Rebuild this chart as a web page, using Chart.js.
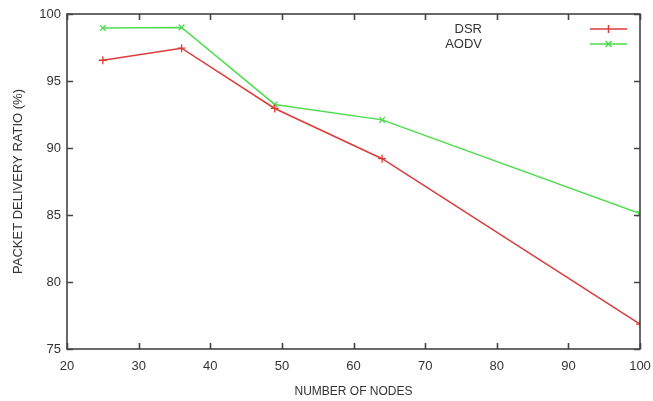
<!DOCTYPE html>
<html>
<head>
<meta charset="utf-8">
<script src="https://cdn.jsdelivr.net/npm/chart.js@4/dist/chart.umd.min.js"></script>
<style>
  html, body { margin: 0; padding: 0; background: #fff; }
</style>
</head>
<body>
<canvas id="pdrChart" width="653" height="401"></canvas>
<script>
// values
const nodes = [25, 36, 49, 64, 100];
const dsrValues = [96.55, 97.45, 92.95, 89.2, 76.85];
const aodvValues = [98.95, 99.0, 93.25, 92.1, 85.1];
const xTicks = [20, 30, 40, 50, 60, 70, 80, 90, 100];
const yTicks = [75, 80, 85, 90, 95, 100];

const dsrColor = '#dd3a3a';
const aodvColor = '#4ddc4d';
const axisColor = '#444';
const textColor = '#333';
const fontFamily = '"Liberation Sans", Arial, sans-serif';

// gnuplot style box with inward ticks on every side + legend in the corner
const framePlugin = {
  id: 'frame',
  afterDraw(chart) {
    const ctx = chart.ctx;
    const a = chart.chartArea;
    const xs = chart.scales.x, ys = chart.scales.y;
    const tick = 6;
    ctx.save();
    ctx.strokeStyle = axisColor;
    ctx.lineWidth = 1.6;
    ctx.strokeRect(a.left, a.top, a.right - a.left, a.bottom - a.top);
    ctx.beginPath();
    xTicks.forEach(v => {
      const px = Math.round(xs.getPixelForValue(v)) + 0.5;
      ctx.moveTo(px, a.bottom); ctx.lineTo(px, a.bottom - tick);
      ctx.moveTo(px, a.top); ctx.lineTo(px, a.top + tick);
    });
    yTicks.forEach(v => {
      const py = Math.round(ys.getPixelForValue(v)) + 0.5;
      ctx.moveTo(a.left, py); ctx.lineTo(a.left + tick, py);
      ctx.moveTo(a.right, py); ctx.lineTo(a.right - tick, py);
    });
    ctx.stroke();

    // legend
    ctx.font = '13px ' + fontFamily;
    ctx.textAlign = 'right';
    ctx.textBaseline = 'middle';
    chart.data.datasets.forEach((ds, i) => {
      const y = a.top + 15 + i * 15;
      const x1 = a.right - 50, x2 = a.right - 13, xm = (x1 + x2) / 2;
      ctx.fillStyle = textColor;
      ctx.fillText(ds.label, a.right - 158, y);
      ctx.strokeStyle = ds.borderColor;
      ctx.lineWidth = 1.5;
      ctx.beginPath();
      ctx.moveTo(x1, y); ctx.lineTo(x2, y);
      if (ds.pointStyle === 'cross') {
        ctx.moveTo(xm, y - 4); ctx.lineTo(xm, y + 4);
      } else {
        ctx.moveTo(xm - 3, y - 3); ctx.lineTo(xm + 3, y + 3);
        ctx.moveTo(xm - 3, y + 3); ctx.lineTo(xm + 3, y - 3);
      }
      ctx.stroke();
    });
    ctx.restore();
  }
};

const ctx = document.getElementById('pdrChart').getContext('2d');

new Chart(ctx, {
  type: 'line',
  data: {
    datasets: [{
      label: 'DSR',
      data: nodes.map((n, i) => ({ x: n, y: dsrValues[i] })),
      borderColor: dsrColor,
      backgroundColor: dsrColor,
      borderWidth: 1.5,
      pointStyle: 'cross',
      pointRadius: 4,
      pointBorderWidth: 1.3,
      tension: 0
    }, {
      label: 'AODV',
      data: nodes.map((n, i) => ({ x: n, y: aodvValues[i] })),
      borderColor: aodvColor,
      backgroundColor: aodvColor,
      borderWidth: 1.5,
      pointStyle: 'crossRot',
      pointRadius: 4,
      pointBorderWidth: 1.3,
      tension: 0
    }]
  },
  options: {
    responsive: false,
    animation: false,
    layout: { padding: { left: 0, top: 14, right: 13, bottom: 0 } },
    plugins: {
      legend: { display: false },
      tooltip: { enabled: false }
    },
    scales: {
      x: {
        type: 'linear',
        min: 20,
        max: 100,
        afterFit: s => { s.height = 52; s.paddingLeft = 0; s.paddingRight = 0; },
        afterBuildTicks: s => { s.ticks = xTicks.map(v => ({ value: v })); },
        grid: { display: false, drawTicks: false },
        border: { display: false },
        ticks: { color: textColor, padding: 10, font: { family: fontFamily, size: 13 }, maxRotation: 0 },
        title: {
          display: true,
          text: 'NUMBER OF NODES',
          color: textColor,
          font: { family: fontFamily, size: 12 },
          padding: { top: 0, bottom: 2 }
        }
      },
      y: {
        min: 75,
        max: 100,
        afterFit: s => { s.width = 67; s.paddingTop = 0; s.paddingBottom = 0; },
        afterBuildTicks: s => { s.ticks = yTicks.map(v => ({ value: v })); },
        grid: { display: false, drawTicks: false },
        border: { display: false },
        ticks: { color: textColor, padding: 6, font: { family: fontFamily, size: 13 } },
        title: {
          display: true,
          text: 'PACKET DELIVERY RATIO (%)',
          color: textColor,
          font: { family: fontFamily, size: 13 },
          padding: { top: 11, bottom: 0 }
        }
      }
    }
  },
  plugins: [framePlugin]
});
</script>
</body>
</html>
